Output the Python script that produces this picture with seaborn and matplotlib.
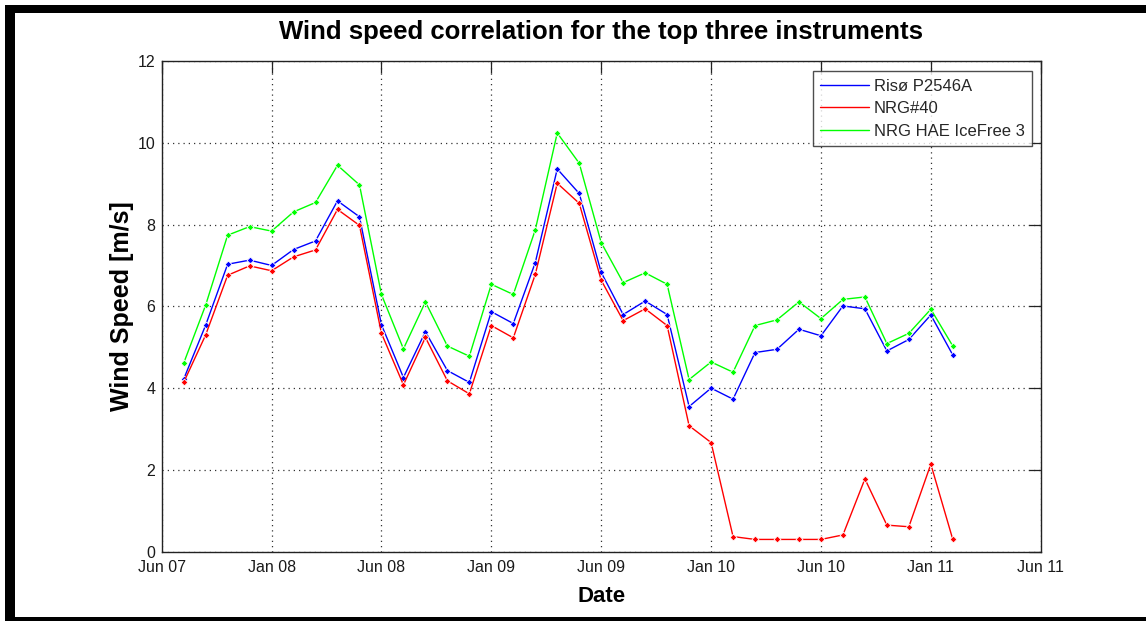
import numpy as np
import pandas as pd
import matplotlib
matplotlib.use("Agg")
import matplotlib.pyplot as plt
from matplotlib.lines import Line2D
from matplotlib.patches import Rectangle
import seaborn as sns

# Half-year tick labels along the date axis
tick_labels = ["Jun 07", "Jan 08", "Jun 08", "Jan 09", "Jun 09",
               "Jan 10", "Jun 10", "Jan 11", "Jun 11"]

# Averaged wind speed per sampling period [m/s]
riso_p2546a = [4.22, 5.54, 7.03, 7.13, 7.00, 7.39, 7.60, 8.58, 8.19, 5.55,
               4.26, 5.38, 4.43, 4.14, 5.87, 5.58, 7.07, 9.36, 8.76, 6.83,
               5.80, 6.13, 5.80, 3.55, 4.00, 3.73, 4.87, 4.95, 5.44, 5.28,
               6.01, 5.94, 4.91, 5.19, 5.79, 4.81]
nrg_40 = [4.14, 5.30, 6.76, 6.99, 6.87, 7.21, 7.38, 8.37, 7.98, 5.34,
          4.08, 5.24, 4.18, 3.86, 5.53, 5.23, 6.78, 9.01, 8.52, 6.64,
          5.65, 5.94, 5.53, 3.08, 2.67, 0.37, 0.30, 0.30, 0.30, 0.30,
          0.41, 1.78, 0.65, 0.61, 2.14, 0.30]
nrg_hae_icefree3 = [4.61, 6.03, 7.74, 7.95, 7.84, 8.31, 8.54, 9.45, 8.97, 6.29,
                    4.96, 6.11, 5.03, 4.78, 6.54, 6.29, 7.87, 10.24, 9.50, 7.56,
                    6.58, 6.82, 6.54, 4.21, 4.64, 4.39, 5.53, 5.67, 6.11, 5.70,
                    6.17, 6.23, 5.09, 5.34, 5.93, 5.03]

series_names = ["Risø P2546A", "NRG#40", "NRG HAE IceFree 3"]
series_colors = ["#0000ff", "#ff0000", "#00ff00"]

# Sampling periods: five per half-year tick interval
n = len(riso_p2546a)
period_pos = np.arange(1, n + 1) / 5.0

df = pd.DataFrame({
    "pos": np.tile(period_pos, 3),
    "speed": riso_p2546a + nrg_40 + nrg_hae_icefree3,
    "instrument": np.repeat(series_names, n),
})

sns.set_style("white")
plt.rcParams["font.family"] = ["Liberation Sans", "DejaVu Sans"]

W, H = 1146, 621
fig = plt.figure(figsize=(W / 100, H / 100), dpi=100)
fig.patch.set_facecolor("white")

ax_l, ax_r, ax_t, ax_b = 161.7, 1040.7, 61.0, 551.7
ax = fig.add_axes([ax_l / W, 1 - ax_b / H, (ax_r - ax_l) / W, (ax_b - ax_t) / H])

sns.lineplot(data=df, x="pos", y="speed", hue="instrument",
             hue_order=series_names, palette=series_colors,
             marker="D", markersize=3.5, markeredgewidth=0.6,
             linewidth=1.0, ax=ax, legend=False, zorder=3)

ax.set_xlim(0, 8)
ax.set_ylim(0, 12)
ax.set_xticks(np.arange(len(tick_labels)))
ax.set_xticklabels(tick_labels)
ax.set_yticks(np.arange(0, 13, 2))
ax.set_yticklabels([str(v) for v in range(0, 13, 2)])

ax.tick_params(axis="both", which="major", direction="in", length=8.5,
               width=0.9, color="#222222", labelsize=11.5, labelcolor="#1a1a1a",
               top=True, right=True)
ax.tick_params(axis="x", pad=6)
ax.tick_params(axis="y", pad=4.5)

ax.grid(True, linestyle=(0, (1, 3.2)), color="#333333", linewidth=0.9)
ax.set_axisbelow(True)
for sp in ax.spines.values():
    sp.set_color("#222222")
    sp.set_linewidth(1.0)

ax.set_xlabel("Date", fontsize=16, fontweight="bold", color="black")
ax.set_ylabel("Wind Speed [m/s]", fontsize=18, fontweight="bold", color="black")
ax.xaxis.set_label_coords(0.5, (ax_b - 597) / (ax_b - ax_t))
ax.xaxis.label.set_va("center")
ax.yaxis.set_label_coords((122.5 - ax_l) / (ax_r - ax_l), 0.5)
ax.yaxis.label.set_va("center")

fig.text(0.5 * (ax_l + ax_r) / W, 1 - 32 / H,
         "Wind speed correlation for the top three instruments",
         ha="center", va="center", fontsize=18.5, fontweight="bold", color="black")

handles = [Line2D([0], [0], color=c, linewidth=1.0) for c in series_colors]
leg = ax.legend(handles, series_names, loc="upper right",
                bbox_to_anchor=((1032 - ax_l) / (ax_r - ax_l), (ax_b - 71) / (ax_b - ax_t)),
                frameon=True, fancybox=False, fontsize=12, handlelength=2.9,
                handletextpad=0.3, labelspacing=0.45, borderpad=0.45,
                borderaxespad=0.0)
leg.get_frame().set_edgecolor("#222222")
leg.get_frame().set_linewidth(1.0)

# Heavy black frame around the figure
for (x0, y0, w, h) in [(5, 5, W - 5, 8), (5, 5, 10, 612), (5, 617, W - 5, 4)]:
    fig.patches.append(Rectangle((x0 / W, 1 - (y0 + h) / H), w / W, h / H,
                                 transform=fig.transFigure, facecolor="black",
                                 edgecolor="none", zorder=10))

fig.savefig("out.png", dpi=100)
